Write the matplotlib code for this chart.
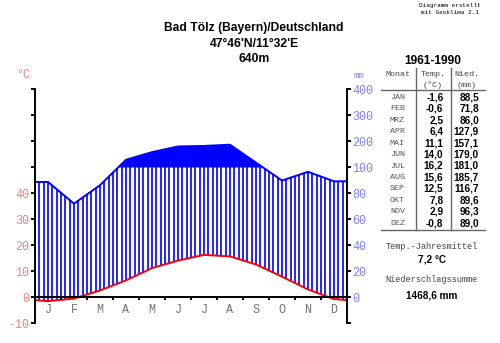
import matplotlib.pyplot as plt
import numpy as np
from matplotlib.lines import Line2D

# Klimadaten Bad Toelz 1961-1990
months = ['J', 'F', 'M', 'A', 'M', 'J', 'J', 'A', 'S', 'O', 'N', 'D']
month_abbr = ['JAN', 'FEB', 'MRZ', 'APR', 'MAI', 'JUN', 'JUL', 'AUG', 'SEP', 'OKT', 'NOV', 'DEZ']
temp = [-1.6, -0.6, 2.5, 6.4, 11.1, 14.0, 16.2, 15.6, 12.5, 7.8, 2.9, -0.8]
prec = [88.5, 71.8, 86.0, 127.9, 157.1, 179.0, 181.0, 185.7, 116.7, 89.6, 96.3, 89.0]
temp_ticks = [-10, 0, 10, 20, 30, 40, 50, 60, 70, 80]
prec_labels = ['', '0', '20', '40', '60', '80', '100', '200', '300', '400']
title_lines = ['Bad Tölz (Bayern)/Deutschland', "47°46'N/11°32'E", '640m']
mean_temp = '7,2 °C'
total_prec = '1468,6 mm'

MONO = 'Liberation Mono'
SANS = 'Liberation Sans'
PINK = '#f08080'
LBLUE = '#8080f0'
BLUE = '#0000ff'


def prec_scale(p):
    # 0-100 mm: 20 mm = 10 °C, darueber 100 mm = 10 °C
    p = np.asarray(p, float)
    return np.where(p <= 100, p / 2, 50 + (p - 100) / 10)


def fmt(v):
    return ('%.1f' % v).replace('.', ',')


W, H = 500, 343
fig = plt.figure(figsize=(W / 100, H / 100), dpi=100)
ax = fig.add_axes([35 / W, 1 - 323 / H, 312 / W, 234 / H])

x_mid = np.arange(12) + 0.5
xt = np.concatenate([[0], x_mid, [12]])
edge = (temp[0] + temp[-1]) / 2
yt = np.concatenate([[edge], temp, [edge]])
yp = prec_scale(np.concatenate([[prec[0]], prec, [prec[-1]]]))

# dichte Stuetzstellen fuer die Flaechen
xd = np.linspace(0, 12, 1201)
td = np.interp(xd, xt, yt)
pd_ = np.interp(xd, xt, yp)
ax.fill_between(xd, 50, pd_, where=pd_ > 50, color=BLUE, lw=0)

# humide Zeit: senkrechte Schraffur
xh = np.linspace(0, 12, 73)
th = np.interp(xh, xt, yt)
ph = np.minimum(np.interp(xh, xt, yp), 50)
m = ph > th
ax.vlines(xh[m], th[m], ph[m], color=BLUE, lw=1.2)

ax.plot(xt, yp, color=BLUE, lw=1.4)
ax.plot(xt, yt, color='red', lw=1.4)

# Nulllinie mit Monatsgrenzen
ax.plot([0, 12], [0, 0], color='black', lw=1.4)
ax.vlines(np.arange(1, 12), -1.2, 0, color='black', lw=1.4)
for i, mo in enumerate(months):
    ax.text(x_mid[i], -5, mo, ha='center', va='center', family=MONO,
            fontsize=8.5, color='#707070')

ax.set_xlim(0, 12)
ax.set_ylim(-10, 80)
ax.set_xticks([])
ax.set_yticks(temp_ticks)
ax.set_yticklabels([str(v) if v <= 40 else '' for v in temp_ticks],
                   family=MONO, fontsize=8.5)
ax.tick_params(axis='y', direction='out', length=3, width=1.4,
               labelcolor=PINK, pad=1)
for s in ['top', 'bottom', 'right']:
    ax.spines[s].set_visible(False)
ax.spines['left'].set_linewidth(1.4)
ax.patch.set_alpha(0)

ax2 = ax.twinx()
ax2.set_ylim(-10, 80)
ax2.set_yticks(temp_ticks)
ax2.set_yticklabels(prec_labels, family=MONO, fontsize=8.5)
ax2.tick_params(axis='y', direction='out', length=3, width=1.4,
                labelcolor=LBLUE, pad=1)
for s in ['top', 'bottom', 'left']:
    ax2.spines[s].set_visible(False)
ax2.spines['right'].set_linewidth(1.4)


def ft(x, y, s, **kw):
    fig.text(x / W, 1 - y / H, s, **kw)


def hline(x1, x2, y, **kw):
    fig.add_artist(Line2D([x1 / W, x2 / W], [1 - y / H, 1 - y / H], **kw))


def vline(x, y1, y2, **kw):
    fig.add_artist(Line2D([x / W, x / W], [1 - y1 / H, 1 - y2 / H], **kw))


# Titel
for t, y in zip(title_lines, [28, 44, 59]):
    ft(254, y, t, ha='center', va='center', family=SANS, weight='bold', fontsize=8.7)

ft(23, 75, '°C', ha='center', va='center', family=MONO, fontsize=8.5, color=PINK)
ft(359, 75, 'mm', ha='center', va='center', family=MONO, fontsize=6.5, color=LBLUE)

ft(450, 5, 'Diagramm erstellt', ha='center', va='center', family=MONO, fontsize=4.3)
ft(450, 13, 'mit Geoklima 2.1', ha='center', va='center', family=MONO, fontsize=4.3)

# Tabelle
ft(433, 61, '1961-1990', ha='center', va='center', family=SANS, weight='bold', fontsize=8.6)
ft(397.5, 74, 'Monat', ha='center', va='center', family=MONO, fontsize=6.0, color='#444444')
ft(433, 74, 'Temp.', ha='center', va='center', family=MONO, fontsize=6.0, color='#444444')
ft(467, 74, 'Nied.', ha='center', va='center', family=MONO, fontsize=6.0, color='#444444')
ft(433, 85.5, '(°C)', ha='center', va='center', family=MONO, fontsize=6.0, color='#444444')
ft(467, 85.5, '(mm)', ha='center', va='center', family=MONO, fontsize=6.0, color='#444444')
hline(381, 485, 90, color='#666666', lw=1.0)
hline(381, 485, 229.5, color='#666666', lw=1.0)
vline(416, 68, 229.5, color='#666666', lw=1.0)
vline(451, 68, 229.5, color='#666666', lw=1.0)

for i in range(12):
    y = 97.3 + i * 11.45
    ft(397.5, y, month_abbr[i], ha='center', va='center', family=MONO,
       fontsize=6.0, color='#555555')
    ft(443.5, y, fmt(temp[i]), ha='right', va='center', family=SANS,
       weight='bold', fontsize=7.2)
    ft(479, y, fmt(prec[i]), ha='right', va='center', family=SANS,
       weight='bold', fontsize=7.2)

ft(432, 246.5, 'Temp.-Jahresmittel', ha='center', va='center', family=MONO,
   fontsize=6.2, color='#444444')
ft(432, 259, mean_temp, ha='center', va='center', family=SANS, weight='bold', fontsize=7.2)
ft(432, 280, 'Niederschlagssumme', ha='center', va='center', family=MONO,
   fontsize=6.2, color='#444444')
ft(432, 296, total_prec, ha='center', va='center', family=SANS, weight='bold', fontsize=7.2)

plt.savefig('out.png', dpi=100)
